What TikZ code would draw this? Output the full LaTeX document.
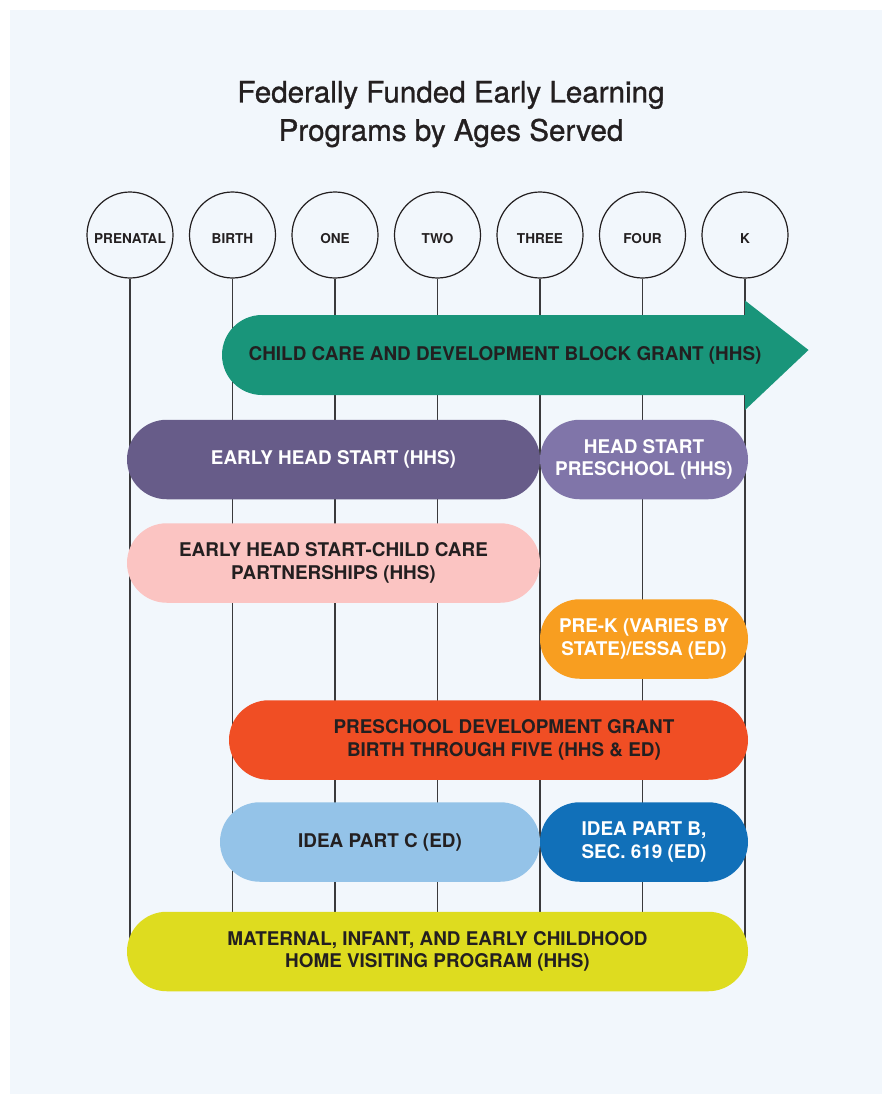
\documentclass[tikz,border=0pt]{standalone}
\usepackage{fontspec}
\setmainfont{TeX Gyre Heros}
\newfontfamily\titlefont[FakeBold=1.0]{TeX Gyre Heros}
\definecolor{panel}{HTML}{F2F7FC}
\definecolor{ink}{HTML}{231F20}
\definecolor{stemgray}{HTML}{3A3A3C}
\definecolor{ccdbgc}{HTML}{19957A}
\definecolor{ehsc}{HTML}{675C89}
\definecolor{hspc}{HTML}{8075A9}
\definecolor{pinkc}{HTML}{FBC4C2}
\definecolor{prekc}{HTML}{F89E20}
\definecolor{pdgc}{HTML}{F04E24}
\definecolor{ideacc}{HTML}{94C3E8}
\definecolor{ideabc}{HTML}{1170B9}
\definecolor{miechvc}{HTML}{DEDC1F}
\begin{document}
\begin{tikzpicture}[x=1pt,y=-1pt,
  age/.style={circle, draw=ink, line width=1.2pt, minimum size=86pt, inner sep=0pt,
    text height=16pt, text depth=0pt,
    font=\bfseries\fontsize{13.6}{16}\selectfont, text=ink},
  stem/.style={draw=stemgray, line width=1.2pt},
  bar/.style={rectangle, rounded corners=39.75pt, minimum height=79.5pt, inner sep=0pt,
    align=center, font=\bfseries\fontsize{18.9}{22.3}\selectfont, text=ink},
  barlabel/.style={align=center, inner sep=0pt, font=\bfseries\fontsize{18.9}{22.3}\selectfont, text=ink},
  titletext/.style={anchor=base, inner sep=0pt, font=\titlefont\fontsize{29.6}{34}\selectfont, text=ink}]

% page and panel
\useasboundingbox (0,0) rectangle (882,1094);
\fill[white] (0,0) rectangle (882,1094);
\fill[panel] (10,10) rectangle (882,1094);

% title
\node[titletext] (title1) at (451,102.5) {Federally Funded Early Learning};
\node[titletext] (title2) at (451,140.8) {Programs by Ages Served};

% age markers
\node[age] (prenatal) at (130,235) {PRENATAL};
\node[age] (birth)    at (232.5,235) {BIRTH};
\node[age] (one)      at (335,235) {ONE};
\node[age] (two)      at (437.5,235) {TWO};
\node[age] (three)    at (540,235) {THREE};
\node[age] (four)     at (642.5,235) {FOUR};
\node[age] (kinder)   at (745,235) {K};

% stems running down behind the bars
\foreach \n/\x in {prenatal/130, birth/232.5, one/335, two/437.5, three/540, four/642.5, kinder/745}{
  \coordinate (\n-end) at (\x,952);
  \draw[stem] (\n) -- (\n-end);
}

% Child Care and Development Block Grant arrow
\fill[ccdbgc] (745,300.5) -- (808.5,350) -- (745,410) -- (745,395)
  -- (262,395) arc[start angle=90, end angle=270, radius=40] -- (745,315) -- cycle;
\node[barlabel] (ccdbg) at (505,355.5) {CHILD CARE AND DEVELOPMENT BLOCK GRANT (HHS)};

% program bars
\node[bar, fill=ehsc, text=white, minimum width=413pt] (ehs) at (333.5,459.5) {EARLY HEAD START (HHS)};
\node[bar, fill=hspc, text=white, minimum width=208pt] (hsp) at (644,459.5) {HEAD START\\PRESCHOOL (HHS)};
\node[bar, fill=pinkc, minimum width=413pt] (ehscc) at (333.5,563) {EARLY HEAD START-CHILD CARE\\PARTNERSHIPS (HHS)};
\node[bar, fill=prekc, text=white, minimum width=208pt] (prek) at (644,639) {PRE-K (VARIES BY\\STATE)/ESSA (ED)};
\node[bar, fill=pdgc, minimum width=519pt] (pdg) at (488.5,740) {};
\node[barlabel] (pdglabel) at (504,740) {PRESCHOOL DEVELOPMENT GRANT\\BIRTH THROUGH FIVE (HHS \& ED)};
\node[bar, fill=ideacc, minimum width=320pt] (ideac) at (380,842) {IDEA PART C (ED)};
\node[bar, fill=ideabc, text=white, minimum width=208pt] (ideab) at (644,842) {IDEA PART B,\\SEC. 619 (ED)};
\node[bar, fill=miechvc, minimum width=621pt] (miechv) at (437.5,951.5) {MATERNAL, INFANT, AND EARLY CHILDHOOD\\HOME VISITING PROGRAM (HHS)};

\end{tikzpicture}
\end{document}
